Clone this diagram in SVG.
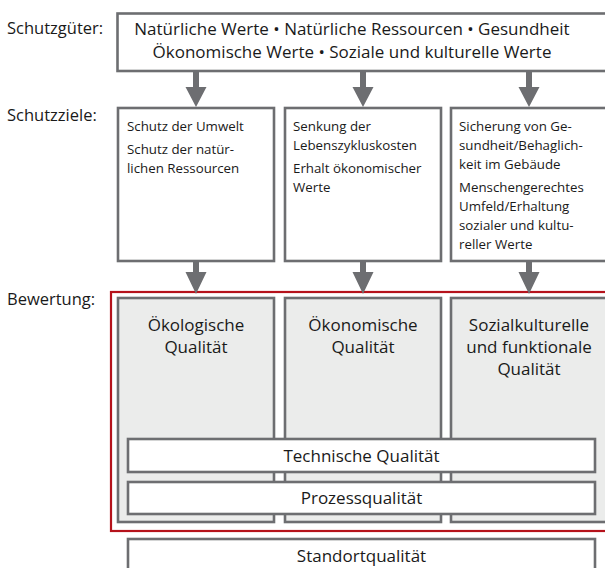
<svg xmlns="http://www.w3.org/2000/svg" width="605" height="568" viewBox="0 0 605 568">
<style>
text{font-family:"Open Sans","Noto Sans","Liberation Sans",sans-serif;fill:#1a1a1a}
.lbl{font-size:16.5px}
.big{font-size:17px}
.sm{font-size:13.3px}
.box{fill:#fff;stroke:#6d6e71;stroke-width:2.6}
.col{fill:#ebeceb;stroke:#6d6e71;stroke-width:2.6}
.red{fill:none;stroke:#b5121b;stroke-width:2.2}
.arr{fill:#6d6e71}
.c{text-anchor:middle}
</style>
<rect width="605" height="568" fill="#fff"/>
<text class="lbl" x="7" y="34">Schutzgüter:</text>
<text class="lbl" x="7" y="121">Schutzziele:</text>
<text class="lbl" x="7" y="305">Bewertung:</text>

<g id="schutzgueter">
<rect class="box" x="117.5" y="13.5" width="500" height="57.5"/>
<text class="big c" x="352" y="35">Natürliche Werte • Natürliche Ressourcen • Gesundheit</text>
<text class="big c" x="352" y="58">Ökonomische Werte • Soziale und kulturelle Werte</text>
</g>

<g id="ziel1">
<rect class="box" x="118" y="108" width="156" height="153"/>
<text class="sm" x="127" y="131">Schutz der Umwelt</text>
<text class="sm" x="127" y="154">Schutz der natür-</text>
<text class="sm" x="127" y="173">lichen Ressourcen</text>
</g>
<g id="ziel2">
<rect class="box" x="285" y="108" width="156" height="153"/>
<text class="sm" x="293" y="131">Senkung der</text>
<text class="sm" x="293" y="150">Lebenszykluskosten</text>
<text class="sm" x="293" y="173">Erhalt ökonomischer</text>
<text class="sm" x="293" y="192">Werte</text>
</g>
<g id="ziel3">
<rect class="box" x="451" y="108" width="160" height="153"/>
<text class="sm" x="459" y="131">Sicherung von Ge-</text>
<text class="sm" x="459" y="150">sundheit/Behaglich-</text>
<text class="sm" x="459" y="169">keit im Gebäude</text>
<text class="sm" x="459" y="192">Menschengerechtes</text>
<text class="sm" x="459" y="211">Umfeld/Erhaltung</text>
<text class="sm" x="459" y="230">sozialer und kultu-</text>
<text class="sm" x="459" y="249">reller Werte</text>
</g>

<g id="bewertung">
<rect class="red" x="111" y="292" width="520" height="239"/>
</g>
<g id="oeko">
<rect class="col" x="118" y="298" width="156" height="224"/>
<text class="big c" x="196" y="331">Ökologische</text>
<text class="big c" x="196" y="353">Qualität</text>
</g>
<g id="oekon">
<rect class="col" x="285" y="298" width="156" height="224"/>
<text class="big c" x="363" y="331">Ökonomische</text>
<text class="big c" x="363" y="353">Qualität</text>
</g>
<g id="sozial">
<rect class="col" x="451" y="298" width="160" height="224"/>
<text class="big c" x="529" y="331">Sozialkulturelle</text>
<text class="big c" x="529" y="353">und funktionale</text>
<text class="big c" x="529" y="375">Qualität</text>
</g>
<g id="technisch">
<rect class="box" x="128" y="439" width="467" height="33"/>
<text class="big c" x="361.5" y="462">Technische Qualität</text>
</g>
<g id="prozess">
<rect class="box" x="128" y="482" width="467" height="32"/>
<text class="big c" x="361.5" y="504">Prozessqualität</text>
</g>
<g id="standort">
<rect class="box" x="128" y="539" width="467" height="40"/>
<text class="big c" x="361.5" y="562">Standortqualität</text>
</g>

<g id="connectors" class="arr">
<path d="M193 72H199V87H206.5L196 107L185.5 87H193Z"/>
<path d="M360 72H366V87H373.5L363 107L352.5 87H360Z"/>
<path d="M526 72H532V87H539.5L529 107L518.5 87H526Z"/>
<path d="M193 262H199V272H206.5L196 294L185.5 272H193Z"/>
<path d="M360 262H366V272H373.5L363 294L352.5 272H360Z"/>
<path d="M526 262H532V272H539.5L529 294L518.5 272H526Z"/>
</g>
</svg>
